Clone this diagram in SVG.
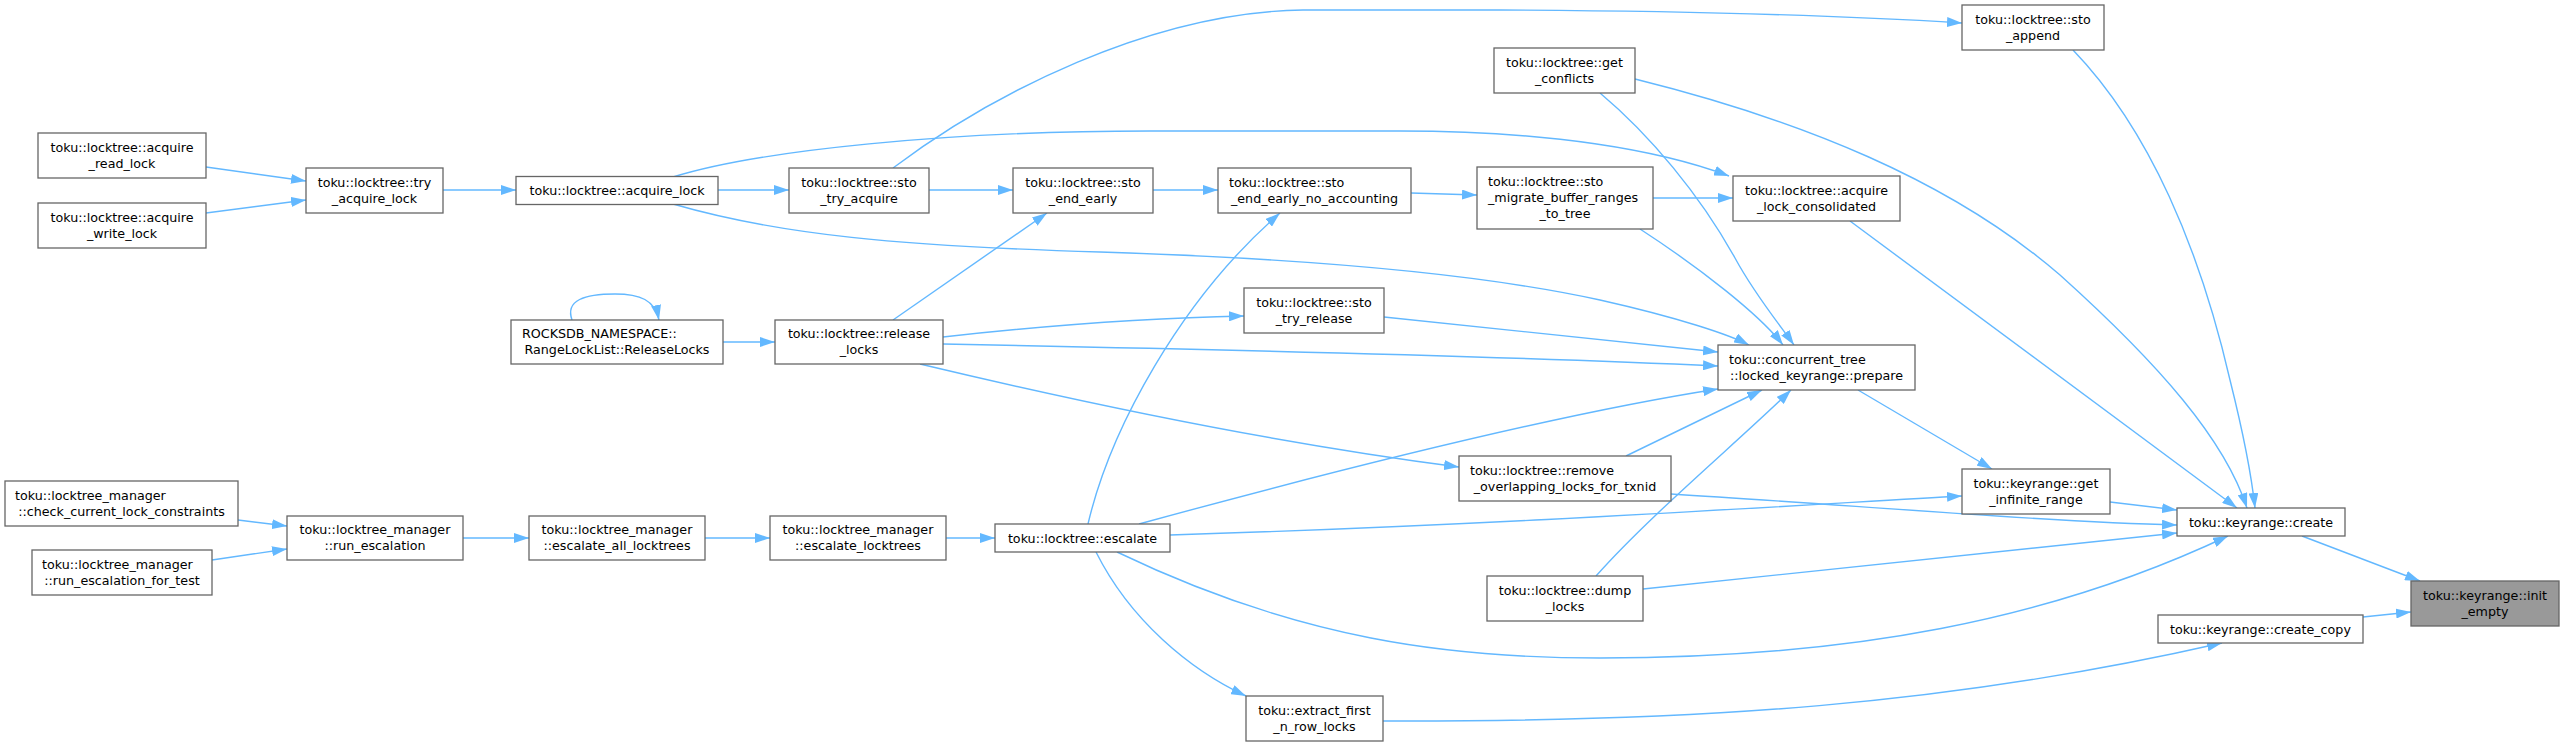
<svg xmlns="http://www.w3.org/2000/svg" width="2564" height="746" viewBox="0 0 2564 746">
<style>
.n rect{fill:#ffffff;stroke:#666666;stroke-width:1.3}
.n.root rect{fill:#999999}
.n text{font-family:"DejaVu Sans",sans-serif;font-size:12.7px;fill:#000000}
.m{text-anchor:middle}
.s{text-anchor:start}
.e path{fill:none;stroke:#63b8ff;stroke-width:1.4;marker-end:url(#ah)}
</style>
<defs>
<marker id="ah" viewBox="0 0 15 10" refX="15" refY="5" markerWidth="15" markerHeight="10" markerUnits="userSpaceOnUse" orient="auto"><path d="M0,0 L15,5 L0,10 z" fill="#63b8ff"/></marker>
</defs>
<rect width="2564" height="746" fill="#ffffff"/>
<g id="edges" class="e">
<path d="M206,167 L306,181"/>
<path d="M206,213 L306,200"/>
<path d="M443,190 L516,190"/>
<path d="M718,190 L789,190"/>
<path d="M929,190 L1013,190"/>
<path d="M1153,190 L1218,190"/>
<path d="M1411,193 L1477,195"/>
<path d="M1653,198 L1733,198"/>
<path d="M673,177 C760,150 950,131 1150,131 L1400,131 C1550,131 1660,150 1729,176"/>
<path d="M673,204 C780,235 900,246 1100,252 C1350,260 1500,278 1600,300 C1680,318 1730,335 1749,345"/>
<path d="M893,168 C990,95 1150,12 1303,10 L1500,10 C1700,11 1850,16 1962,23"/>
<path d="M1640,229 C1700,268 1760,315 1783,345"/>
<path d="M1600,93 C1650,135 1700,195 1735,258 C1755,295 1780,325 1794,345"/>
<path d="M1850,221 L2237,508"/>
<path d="M1635,79 C1800,120 1950,180 2060,275 C2160,365 2225,440 2247,508"/>
<path d="M2073,50 C2150,130 2200,250 2230,380 C2245,440 2252,480 2255,508"/>
<path d="M572,320 C565,300 585,294 615,294 C640,294 655,300 659,320"/>
<path d="M723,342 L775,342"/>
<path d="M893,320 L1047,213"/>
<path d="M943,337 C1050,325 1150,318 1244,316"/>
<path d="M943,344 C1200,349 1500,356 1718,366"/>
<path d="M1384,317 L1718,352"/>
<path d="M920,364 C1050,395 1250,440 1459,467"/>
<path d="M1626,456 L1762,390"/>
<path d="M1596,576 C1650,515 1740,440 1791,390"/>
<path d="M1139,524 C1300,480 1550,415 1718,389"/>
<path d="M1088,524 C1110,430 1180,300 1280,213"/>
<path d="M1170,535 C1500,525 1800,505 1962,496"/>
<path d="M1117,552 C1300,640 1450,658 1600,658 C1850,658 2050,620 2228,536"/>
<path d="M1096,552 C1130,620 1190,670 1246,696"/>
<path d="M1671,494 C1850,505 2050,522 2177,525"/>
<path d="M1643,589 L2177,533"/>
<path d="M1858,390 L1992,469"/>
<path d="M2110,502 L2177,510"/>
<path d="M2302,536 L2420,581"/>
<path d="M2363,617 L2411,612"/>
<path d="M1383,721 C1700,722 1950,705 2222,643"/>
<path d="M238,520 L287,526"/>
<path d="M212,560 L287,549"/>
<path d="M463,538 L529,538"/>
<path d="M705,538 L770,538"/>
<path d="M946,538 L995,538"/>
</g>
<g id="n_acquire_read_lock" class="n"><rect x="38" y="133" width="168" height="45"/><text class="m" x="122" y="151.5">toku::locktree::acquire</text><text class="m" x="122" y="167.5">_read_lock</text></g>
<g id="n_acquire_write_lock" class="n"><rect x="38" y="203" width="168" height="45"/><text class="m" x="122" y="221.5">toku::locktree::acquire</text><text class="m" x="122" y="237.5">_write_lock</text></g>
<g id="n_try_acquire_lock" class="n"><rect x="306" y="168" width="137" height="45"/><text class="m" x="374.5" y="186.5">toku::locktree::try</text><text class="m" x="374.5" y="202.5">_acquire_lock</text></g>
<g id="n_acquire_lock" class="n"><rect x="516" y="176.5" width="202" height="28"/><text class="m" x="617" y="195">toku::locktree::acquire_lock</text></g>
<g id="n_sto_try_acquire" class="n"><rect x="789" y="168" width="140" height="45"/><text class="m" x="859" y="186.5">toku::locktree::sto</text><text class="m" x="859" y="202.5">_try_acquire</text></g>
<g id="n_sto_end_early" class="n"><rect x="1013" y="168" width="140" height="45"/><text class="m" x="1083" y="186.5">toku::locktree::sto</text><text class="m" x="1083" y="202.5">_end_early</text></g>
<g id="n_sto_end_early_no_accounting" class="n"><rect x="1218" y="168" width="193" height="45"/><text class="s" x="1229" y="186.5">toku::locktree::sto</text><text class="m" x="1314.5" y="202.5">_end_early_no_accounting</text></g>
<g id="n_sto_migrate" class="n"><rect x="1477" y="167" width="176" height="62"/><text class="s" x="1488" y="186">toku::locktree::sto</text><text class="s" x="1488" y="202">_migrate_buffer_ranges</text><text class="m" x="1565" y="218">_to_tree</text></g>
<g id="n_get_conflicts" class="n"><rect x="1494" y="48" width="141" height="45"/><text class="m" x="1564.5" y="66.5">toku::locktree::get</text><text class="m" x="1564.5" y="82.5">_conflicts</text></g>
<g id="n_sto_append" class="n"><rect x="1962" y="5" width="142" height="45"/><text class="m" x="2033" y="23.5">toku::locktree::sto</text><text class="m" x="2033" y="39.5">_append</text></g>
<g id="n_acquire_lock_consolidated" class="n"><rect x="1733" y="176" width="167" height="45"/><text class="m" x="1816.5" y="194.5">toku::locktree::acquire</text><text class="m" x="1816.5" y="210.5">_lock_consolidated</text></g>
<g id="n_ReleaseLocks" class="n"><rect x="511" y="320" width="212" height="44"/><text class="s" x="522" y="338">ROCKSDB_NAMESPACE::</text><text class="m" x="617" y="354">RangeLockList::ReleaseLocks</text></g>
<g id="n_release_locks" class="n"><rect x="775" y="320" width="168" height="44"/><text class="m" x="859" y="338">toku::locktree::release</text><text class="m" x="859" y="354">_locks</text></g>
<g id="n_sto_try_release" class="n"><rect x="1244" y="288" width="140" height="45"/><text class="m" x="1314" y="306.5">toku::locktree::sto</text><text class="m" x="1314" y="322.5">_try_release</text></g>
<g id="n_prepare" class="n"><rect x="1718" y="345" width="197" height="45"/><text class="s" x="1729" y="363.5">toku::concurrent_tree</text><text class="m" x="1816.5" y="379.5">::locked_keyrange::prepare</text></g>
<g id="n_remove_overlapping" class="n"><rect x="1459" y="456" width="212" height="45"/><text class="s" x="1470" y="474.5">toku::locktree::remove</text><text class="m" x="1565" y="490.5">_overlapping_locks_for_txnid</text></g>
<g id="n_get_infinite_range" class="n"><rect x="1962" y="469" width="148" height="45"/><text class="m" x="2036" y="487.5">toku::keyrange::get</text><text class="m" x="2036" y="503.5">_infinite_range</text></g>
<g id="n_create" class="n"><rect x="2177" y="508" width="168" height="28"/><text class="m" x="2261" y="526.5">toku::keyrange::create</text></g>
<g id="n_init_empty" class="n root"><rect x="2411" y="581" width="148" height="45"/><text class="m" x="2485" y="599.5">toku::keyrange::init</text><text class="m" x="2485" y="615.5">_empty</text></g>
<g id="n_create_copy" class="n"><rect x="2158" y="615" width="205" height="28"/><text class="m" x="2260.5" y="633.5">toku::keyrange::create_copy</text></g>
<g id="n_check_current_lock_constraints" class="n"><rect x="5" y="481" width="233" height="45"/><text class="s" x="15" y="499.5">toku::locktree_manager</text><text class="m" x="121.5" y="515.5">::check_current_lock_constraints</text></g>
<g id="n_run_escalation_for_test" class="n"><rect x="32" y="550" width="180" height="45"/><text class="s" x="42" y="568.5">toku::locktree_manager</text><text class="m" x="122" y="584.5">::run_escalation_for_test</text></g>
<g id="n_run_escalation" class="n"><rect x="287" y="516" width="176" height="44"/><text class="m" x="375" y="534">toku::locktree_manager</text><text class="m" x="375" y="550">::run_escalation</text></g>
<g id="n_escalate_all_locktrees" class="n"><rect x="529" y="516" width="176" height="44"/><text class="m" x="617" y="534">toku::locktree_manager</text><text class="m" x="617" y="550">::escalate_all_locktrees</text></g>
<g id="n_escalate_locktrees" class="n"><rect x="770" y="516" width="176" height="44"/><text class="m" x="858" y="534">toku::locktree_manager</text><text class="m" x="858" y="550">::escalate_locktrees</text></g>
<g id="n_escalate" class="n"><rect x="995" y="524" width="175" height="28"/><text class="m" x="1082.5" y="542.5">toku::locktree::escalate</text></g>
<g id="n_dump_locks" class="n"><rect x="1487" y="576" width="156" height="45"/><text class="m" x="1565" y="594.5">toku::locktree::dump</text><text class="m" x="1565" y="610.5">_locks</text></g>
<g id="n_extract_first_n_row_locks" class="n"><rect x="1246" y="696" width="137" height="45"/><text class="m" x="1314.5" y="714.5">toku::extract_first</text><text class="m" x="1314.5" y="730.5">_n_row_locks</text></g>
</svg>
